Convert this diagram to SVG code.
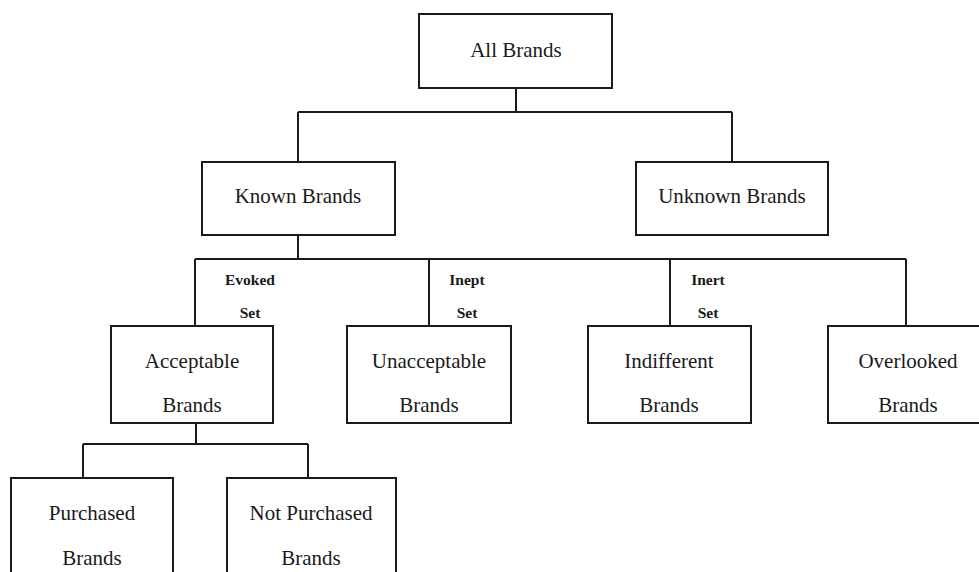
<svg xmlns="http://www.w3.org/2000/svg" width="979" height="572" viewBox="0 0 979 572">
<style>
.box{fill:#fff;stroke:#1a1a1a;stroke-width:2}
.ln{fill:none;stroke:#1a1a1a;stroke-width:2}
.t{font-family:"Liberation Serif","Times New Roman",serif;font-size:21px;fill:#1a1a1a;text-anchor:middle}
.s{font-family:"Liberation Serif","Times New Roman",serif;font-size:15.5px;font-weight:bold;fill:#1a1a1a;text-anchor:middle}
</style>
<rect width="979" height="572" fill="#fff"/>
<g id="connectors">
<path class="ln" d="M516 88V112M298 112H732M298 112V162M732 112V162"/>
<path class="ln" d="M298 235V259M195 259H906M195 259V326M429 259V326M670 259V326M906 259V326"/>
<path class="ln" d="M196 423V444M83 444H308M83 444V478M308 444V478"/>
</g>
<g id="labels">
<text class="s" x="250" y="285">Evoked</text>
<text class="s" x="250" y="318">Set</text>
<text class="s" x="467" y="285">Inept</text>
<text class="s" x="467" y="318">Set</text>
<text class="s" x="708" y="285">Inert</text>
<text class="s" x="708" y="318">Set</text>
</g>
<g id="all"><rect class="box" x="419" y="14" width="193" height="74"/><text class="t" x="516" y="57">All Brands</text></g>
<g id="known"><rect class="box" x="202" y="162" width="193" height="73"/><text class="t" x="298" y="203">Known Brands</text></g>
<g id="unknown"><rect class="box" x="636" y="162" width="192" height="73"/><text class="t" x="732" y="203">Unknown Brands</text></g>
<g id="acceptable"><rect class="box" x="111" y="326" width="162" height="97"/><text class="t" x="192" y="368">Acceptable</text><text class="t" x="192" y="412">Brands</text></g>
<g id="unacceptable"><rect class="box" x="347" y="326" width="164" height="97"/><text class="t" x="429" y="368">Unacceptable</text><text class="t" x="429" y="412">Brands</text></g>
<g id="indifferent"><rect class="box" x="588" y="326" width="163" height="97"/><text class="t" x="669" y="368">Indifferent</text><text class="t" x="669" y="412">Brands</text></g>
<g id="overlooked"><rect class="box" x="828" y="326" width="160" height="97"/><text class="t" x="908" y="368">Overlooked</text><text class="t" x="908" y="412">Brands</text></g>
<g id="purchased"><rect class="box" x="11" y="478" width="162" height="110"/><text class="t" x="92" y="520">Purchased</text><text class="t" x="92" y="565">Brands</text></g>
<g id="notpurchased"><rect class="box" x="227" y="478" width="169" height="110"/><text class="t" x="311" y="520">Not Purchased</text><text class="t" x="311" y="565">Brands</text></g>
</svg>
